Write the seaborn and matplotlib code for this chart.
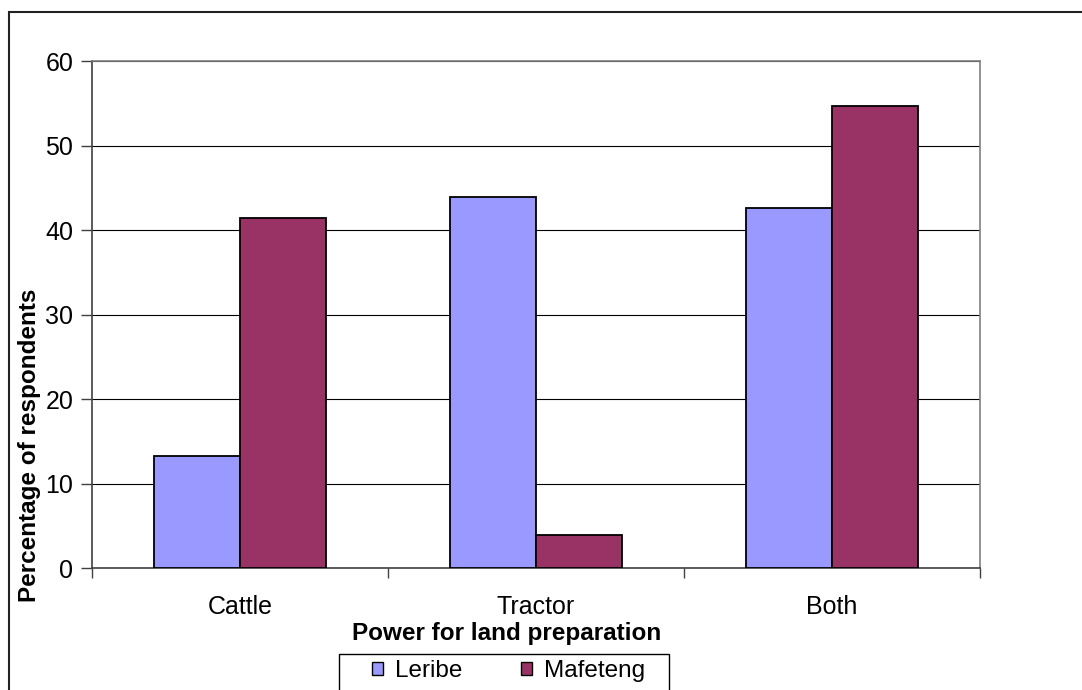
import matplotlib
matplotlib.use("Agg")
import matplotlib.pyplot as plt
from matplotlib.patches import Rectangle
import pandas as pd
import seaborn as sns

# Survey data: share of respondents by source of power for land preparation
categories = ["Cattle", "Tractor", "Both"]
leribe = [13.3, 44.0, 42.6]
mafeteng = [41.4, 3.9, 54.7]
series_names = ["Leribe", "Mafeteng"]
y_ticks = [0, 10, 20, 30, 40, 50, 60]
colors = ["#9999FF", "#993366"]

df = pd.DataFrame({
    "Power": categories * 2,
    "Percent": leribe + mafeteng,
    "District": [series_names[0]] * len(categories) + [series_names[1]] * len(categories),
})

sns.set_style("white")
plt.rcParams["font.family"] = ["Liberation Sans", "DejaVu Sans"]
plt.rcParams["text.color"] = "black"
plt.rcParams["xtick.labelcolor"] = "black"
plt.rcParams["ytick.labelcolor"] = "black"

W, H = 1082, 690
fig = plt.figure(figsize=(W / 100, H / 100), dpi=100)
ax = fig.add_axes([92 / W, 1 - 568.3 / H, (980 - 92) / W, (568.3 - 61.3) / H])

sns.barplot(
    data=df, x="Power", y="Percent", hue="District",
    order=categories, hue_order=series_names, palette=colors,
    width=0.58, edgecolor="black", linewidth=1.3, saturation=1,
    errorbar=None, legend=False, ax=ax, zorder=3,
)

ax.set_ylim(0, 60)
ax.set_xlim(-0.5, len(categories) - 0.5)
ax.yaxis.grid(True, color="black", linewidth=0.8)
ax.xaxis.grid(False)
ax.set_axisbelow(True)

# y axis ticks
ax.set_yticks(y_ticks)
ax.tick_params(axis="y", left=True, length=8, width=1, pad=5.5,
               labelsize=18, direction="out", color="#404040",
               labelcolor="black")

# x axis: tick marks between categories, labels centred on groups
ax.set_xticks([i - 0.5 for i in range(len(categories) + 1)])
ax.set_xticklabels([])
ax.set_xticks(range(len(categories)), minor=True)
ax.set_xticklabels(categories, minor=True)
ax.tick_params(axis="x", which="major", bottom=True, length=7, width=1,
               direction="out", color="#404040")
ax.tick_params(axis="x", which="minor", bottom=True, length=0, pad=19,
               labelsize=18, labelcolor="black")

ax.set_xlabel("")
ax.set_ylabel("")

for side in ("top", "right"):
    ax.spines[side].set_color("#808080")
    ax.spines[side].set_linewidth(1.2)
for side in ("left", "bottom"):
    ax.spines[side].set_color("#404040")
    ax.spines[side].set_linewidth(1.2)

fig.text(507 / W, 1 - 640 / H, "Power for land preparation",
         ha="center", va="baseline", fontsize=17.5, fontweight="bold",
         color="black")
fig.text(30 / W, 1 - 445 / H, "Percentage of respondents", rotation=90,
         ha="center", va="center", fontsize=17.5, fontweight="bold",
         color="black")

# legend below the chart
handles = [Rectangle((0, 0), 1, 1, facecolor=c, edgecolor="black", linewidth=1)
           for c in colors]
fig.legend(handles, series_names, loc="center left",
           bbox_to_anchor=(372 / W, 1 - 671 / H), ncol=2, frameon=False,
           fontsize=17.5, handlelength=0.45, handleheight=0.45,
           handletextpad=0.5, columnspacing=2.4, borderpad=0, borderaxespad=0,
           labelcolor="black")
fig.add_artist(Rectangle((339 / W, 1 - 700 / H), (669 - 339) / W, (700 - 654) / H,
                         transform=fig.transFigure, fill=False,
                         edgecolor="black", linewidth=1))

# outer chart frame
fig.add_artist(Rectangle((9 / W, -0.05), 1.1, (1 - 12 / H) + 0.05,
                         transform=fig.transFigure, fill=False,
                         edgecolor="#222222", linewidth=1.5))

fig.savefig("out.png", dpi=100)
